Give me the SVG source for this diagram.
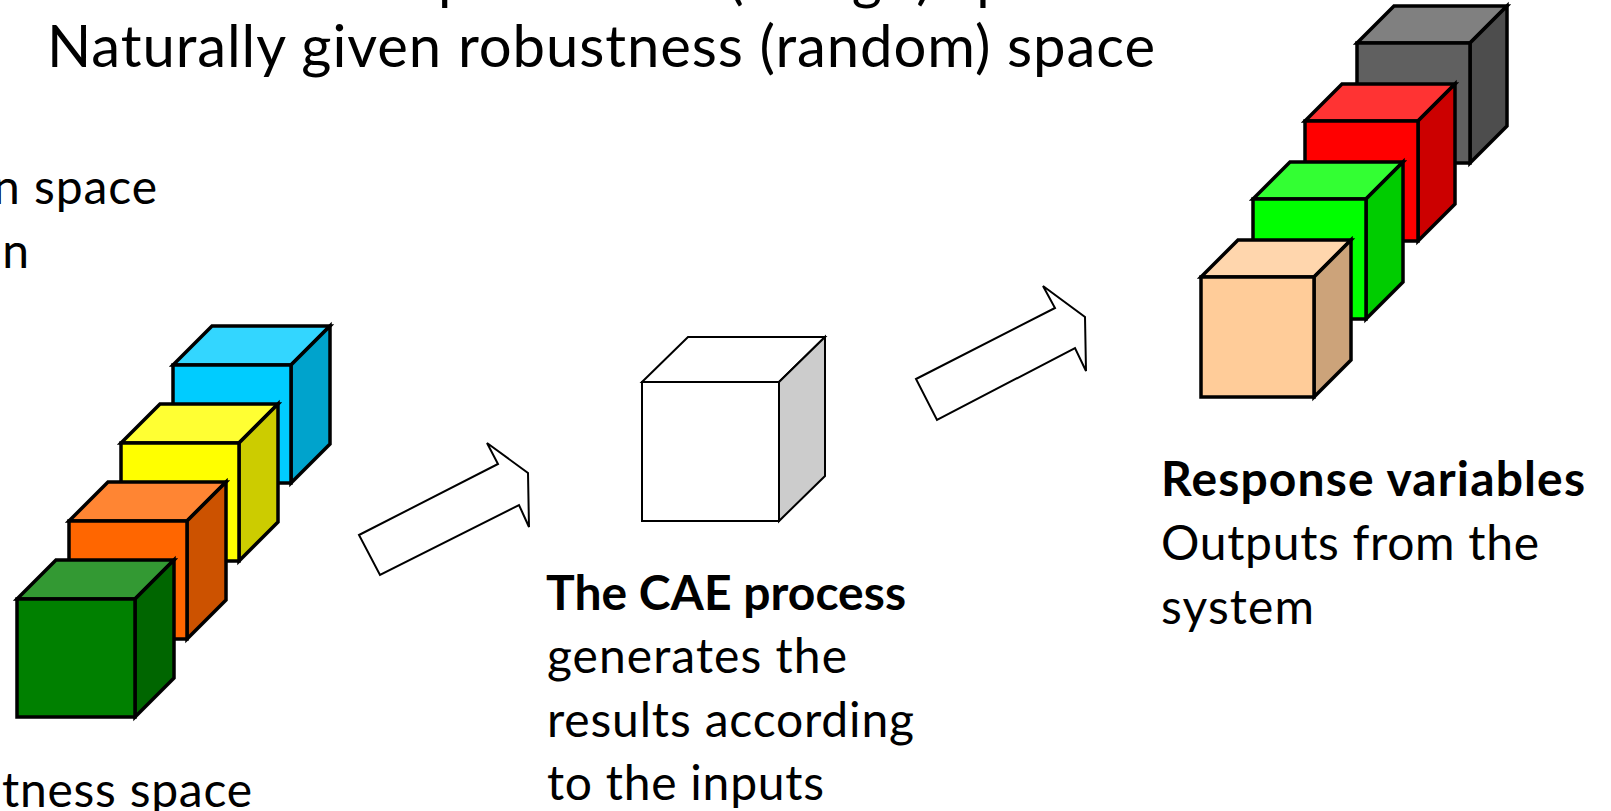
<svg xmlns="http://www.w3.org/2000/svg" width="1611" height="811" viewBox="0 0 1611 811">
  <style>
    .t { font-family: Lato, "Open Sans", "Liberation Sans", sans-serif; fill: #000; }
    .h { font-size: 58px; }
    .b { font-size: 48px; }
    .bold { font-weight: bold; }
    .cube { stroke: #000; stroke-width: 3.5; stroke-linejoin: miter; }
    .wcube { stroke: #000; stroke-width: 2; stroke-linejoin: miter; }
    .arrow { fill: #fff; stroke: #000; stroke-width: 2; stroke-linejoin: miter; }
  </style>
  <rect width="1611" height="811" fill="#fff"/>

  <!-- heading lines -->
  <g id="heading">
    <text class="t h" x="438" y="-2" textLength="662">parameter (design) space</text>
    <text class="t h" x="47" y="67" textLength="1108">Naturally given robustness (random) space</text>
  </g>

  <!-- input variables: stack of four cubes -->
  <g id="input-cubes">
    <g class="cube">
      <polygon points="173,365 212,326 330,326 291,365" fill="#33D6FF"/>
      <polygon points="291,365 330,326 330,444 291,483" fill="#00A3CC"/>
      <rect x="173" y="365" width="118" height="118" fill="#00CCFF"/>
    </g>
    <g class="cube">
      <polygon points="121,443 160,404 278,404 239,443" fill="#FFFF33"/>
      <polygon points="239,443 278,404 278,522 239,561" fill="#CCCC00"/>
      <rect x="121" y="443" width="118" height="118" fill="#FFFF00"/>
    </g>
    <g class="cube">
      <polygon points="69,521 108,482 226,482 187,521" fill="#FF8533"/>
      <polygon points="187,521 226,482 226,600 187,639" fill="#CC5200"/>
      <rect x="69" y="521" width="118" height="118" fill="#FF6600"/>
    </g>
    <g class="cube">
      <polygon points="17,599 56,560 174,560 135,599" fill="#339933"/>
      <polygon points="135,599 174,560 174,678 135,717" fill="#006600"/>
      <rect x="17" y="599" width="118" height="118" fill="#008000"/>
    </g>
  </g>

  <g id="input-labels">
    <text class="t b" x="-7" y="204" textLength="164">n space</text>
    <text class="t b" x="-26" y="268" textLength="55">en</text>
    <text class="t b" x="2" y="807" textLength="250">tness space</text>
  </g>

  <!-- CAE process: plain white cube -->
  <g id="cae-process">
    <g class="wcube">
      <polygon points="642,382 688,337 825,337 779,382" fill="#FFFFFF"/>
      <polygon points="779,382 825,337 825,476 779,521" fill="#CCCCCC"/>
      <rect x="642" y="382" width="137" height="139" fill="#FFFFFF"/>
    </g>
    <text class="t b bold" x="546" y="610" textLength="360">The CAE process</text>
    <text class="t b" x="547" y="673" textLength="300">generates the</text>
    <text class="t b" x="547" y="737" textLength="367">results according</text>
    <text class="t b" x="547" y="800" textLength="277">to the inputs</text>
  </g>

  <!-- response variables: stack of four cubes -->
  <g id="response-variables">
    <g class="cube">
      <polygon points="1357,43 1394,6 1507,6 1470,43" fill="#808080"/>
      <polygon points="1470,43 1507,6 1507,126 1470,163" fill="#4D4D4D"/>
      <rect x="1357" y="43" width="113" height="120" fill="#606060"/>
    </g>
    <g class="cube">
      <polygon points="1305,121 1342,84 1455,84 1418,121" fill="#FF3333"/>
      <polygon points="1418,121 1455,84 1455,204 1418,241" fill="#CC0000"/>
      <rect x="1305" y="121" width="113" height="120" fill="#FF0000"/>
    </g>
    <g class="cube">
      <polygon points="1253,199 1290,162 1403,162 1366,199" fill="#33FF33"/>
      <polygon points="1366,199 1403,162 1403,282 1366,319" fill="#00CC00"/>
      <rect x="1253" y="199" width="113" height="120" fill="#00FF00"/>
    </g>
    <g class="cube">
      <polygon points="1201,277 1238,240 1351,240 1314,277" fill="#FFD6AD"/>
      <polygon points="1314,277 1351,240 1351,360 1314,397" fill="#CCA37A"/>
      <rect x="1201" y="277" width="113" height="120" fill="#FFCC99"/>
    </g>
    <text class="t b bold" x="1161" y="496" textLength="424">Response variables</text>
    <text class="t b" x="1161" y="560" textLength="378">Outputs from the</text>
    <text class="t b" x="1161" y="624" textLength="153">system</text>
  </g>

  <!-- block arrows between the stages -->
  <g id="connectors">
    <polygon class="arrow" points="359,535 498,464 487,443 528,473 529,527 519,505 380,575"/>
    <polygon class="arrow" points="916,379 1055,308 1043,286 1085,317 1086,371 1075,348 937,420"/>
  </g>
</svg>
